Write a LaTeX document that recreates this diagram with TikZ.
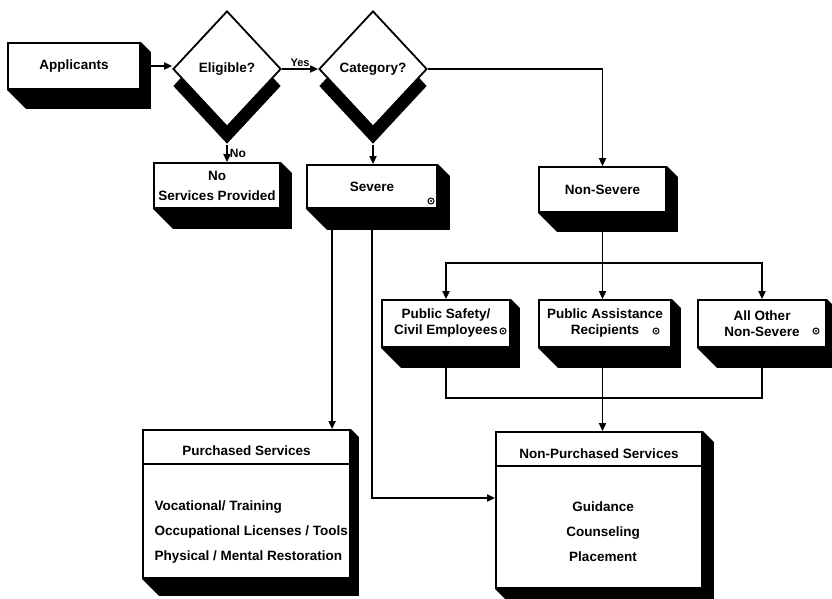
\documentclass[tikz,border=0pt]{standalone}
\usepackage{fontspec}
\setmainfont{Liberation Sans}
\usetikzlibrary{shapes.geometric,shadows,calc,arrows.meta}
\newcommand\extrude[3]{%
  \fill[black] (#1.north east) -- ($(#1.north east)+(#2,#2)$) -- ($(#1.south east)+(#2,#3)$)
    -- ($(#1.south west)+(#3,#3)$) -- (#1.south west) -- (#1.south east) -- cycle;}
\begin{document}
\begin{tikzpicture}[x=1pt,y=-1pt,
  txt/.style={font=\fontsize{13.5}{16}\selectfont\bfseries},
  box/.style={draw, line width=1.8pt, fill=white, rectangle, inner sep=0pt, align=center, txt},
  dia/.style={draw, line width=1.8pt, fill=white, diamond, inner sep=0pt,
    minimum width=108pt, minimum height=116pt, txt,
    general shadow={fill=black, shadow yshift=-17pt}},
  conn/.style={line width=1.8pt, -{Triangle[length=8pt,width=7pt]}},
  wire/.style={line width=1.8pt},
  sym/.style={circle, draw, line width=1pt, inner sep=0pt, minimum size=6pt}
]
\fill[white] (0,0) rectangle (832,599);
\useasboundingbox (0,0) rectangle (832,599);

% nodes
\node[box, minimum width=132pt, minimum height=46pt] (app) at (74,66) {Applicants};
\extrude{app}{10}{19}
\node[dia] (elig) at (227,69) {Eligible?};
\node[dia] (cat) at (373,69) {Category?};

\node[box, minimum width=126pt, minimum height=45pt] (nosvc) at (217,185.5) {No\\[4pt]Services Provided};
\extrude{nosvc}{11}{20}
\node[box, minimum width=130pt, minimum height=43pt] (sev) at (372,186.5) {Severe};
\extrude{sev}{12}{21}
\node[box, minimum width=127pt, minimum height=45pt] (nonsev) at (602.5,189.5) {Non-Severe};
\extrude{nonsev}{11}{19}

\node[box, minimum width=128pt, minimum height=47pt] (pub1) at (446,323.5) {Public Safety/\\Civil Employees};
\extrude{pub1}{9}{20}
\node[box, minimum width=132pt, minimum height=47pt] (pub2) at (605,323.5) {Public Assistance\\Recipients};
\extrude{pub2}{9}{20}
\node[box, minimum width=128pt, minimum height=47pt] (pub3) at (762,323.5) {All Other\\Non-Severe};
\extrude{pub3}{9}{20}

\node[box, minimum width=207pt, minimum height=148pt] (pur) at (246.5,504) {};
\extrude{pur}{8}{17}
\node[box, minimum width=206pt, minimum height=156pt] (npur) at (599,510) {};
\extrude{npur}{11}{17}

% box contents
\node[txt] (purh) at ($(pur.north)+(0,22)$) {Purchased Services};
\draw[wire] ($(pur.north west)+(0,35)$) -- ($(pur.north east)+(0,35)$);
\node[txt, anchor=west, align=left, font=\fontsize{13.5}{25}\selectfont\bfseries] (purlist) at (151,532)
  {Vocational/ Training\\Occupational Licenses / Tools\\Physical / Mental Restoration};
\node[txt] (npurh) at ($(npur.north)+(0,23)$) {Non-Purchased Services};
\draw[wire] ($(npur.north west)+(0,35)$) -- ($(npur.north east)+(0,35)$);
\node[txt, align=center, font=\fontsize{13.5}{25}\selectfont\bfseries] (npurlist) at (603,532)
  {Guidance\\Counseling\\Placement};

% small marks
\node[sym] (m1) at (431,201) {}; \fill (m1) circle (1.2pt);
\node[sym] (m2) at (503,331) {}; \fill (m2) circle (1.2pt);
\node[sym] (m3) at (656,331) {}; \fill (m3) circle (1.2pt);
\node[sym] (m4) at (816,331) {}; \fill (m4) circle (1.2pt);

% connectors
\draw[conn] (app.east) -- (app.east -| elig.west);
\draw[conn] (elig.east) -- node[above, font=\fontsize{11}{12}\selectfont\bfseries, inner sep=1.5pt] (yes) {Yes} (cat.west);
\draw[conn] ($(elig.south)+(0,17)$) -- node[right, font=\fontsize{12}{13}\selectfont\bfseries, inner sep=2pt] (no) {No} (elig.south |- nosvc.north);
\draw[conn] ($(cat.south)+(0,17)$) -- (cat.south |- sev.north);
\draw[conn] (cat.east) -| (nonsev.north);

\draw[conn] ($(nonsev.south)+(0,19)$) -- (nonsev.south |- pub2.north);
\coordinate (split) at ($(nonsev.south)+(0,50)$);
\draw[conn] (split) -| (pub1.north);
\draw[conn] (split) -| (pub3.north);
\coordinate (merge) at ($(nonsev.south |- pub2.south)+(0,50)$);
\draw[wire] ($(pub1.south)+(0,20)$) |- (merge);
\draw[wire] ($(pub3.south)+(0,20)$) |- (merge);
\draw[conn] ($(nonsev.south |- pub2.south)+(0,20)$) -- (nonsev.south |- npur.north);

\coordinate (sevA) at ($(sev.south west)+(26,21)$);
\coordinate (sevB) at ($(sev.south)+(0,21)$);
\draw[conn] (sevA) -- (sevA |- pur.north);
\draw[conn] (sevB) |- ($(npur.west)+(0,-12)$);
\end{tikzpicture}
\end{document}
